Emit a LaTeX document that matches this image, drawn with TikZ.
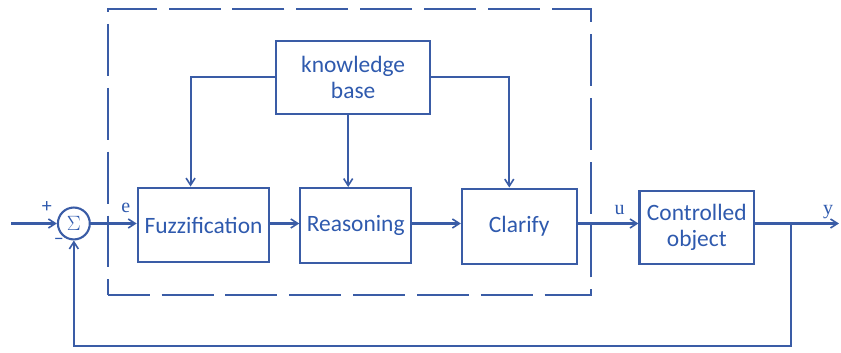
\documentclass[tikz,border=0pt]{standalone}
\usepackage{fontspec}
\setmainfont{Carlito}
\newfontfamily\lblfont{Liberation Serif}
\usetikzlibrary{arrows.meta}
\definecolor{lc}{HTML}{3A5CA6}
\definecolor{tc}{HTML}{2F5AAE}
\begin{document}
\begin{tikzpicture}[x=1pt,y=-1pt,
  line width=2.1pt,
  every path/.style={draw=lc},
  blk/.style={draw=lc,rectangle,inner sep=0pt,text=tc,align=center,font=\fontsize{23.5}{26}\selectfont},
  arr/.style={-{Straight Barb[length=7pt,width=9pt,line width=1.6pt]}},
  lbl/.style={text=tc,font=\lblfont\fontsize{20}{22}\selectfont,inner sep=0pt},
]
\useasboundingbox (0,0) rectangle (841,351);
\fill[white] (0,0) rectangle (841,351);
% dashed controller box
\node[draw=lc,dash pattern=on 52pt off 12pt,dash phase=10pt,minimum width=484pt,minimum height=287pt,inner sep=0pt] (ctrl) at (349,151.5) {};
% blocks
\node[blk,minimum width=154pt,minimum height=73pt] (kb) at (353,76.5) {knowledge\\base};
\node[blk,minimum width=132pt,minimum height=75pt] (fuzz) at (203,224.5) {Fuzzification};
\node[blk,minimum width=111pt,minimum height=75pt] (reas) at (355.5,225) {Reasoning};
\node[blk,minimum width=115pt,minimum height=76pt] (clar) at (519.5,226) {Clarify};
\node[blk,minimum width=115pt,minimum height=74pt] (obj) at (697.5,227) {Controlled\\object};
% summing junction
\node[draw=lc,circle,minimum size=32pt,inner sep=0pt,text=tc,font=\fontsize{21}{23}\selectfont] (sum) at (73,223) {$\Sigma$};
\coordinate (in) at (10,223);
\coordinate (yend) at (840,223);
\coordinate (br) at (792,223);
\coordinate (bot) at (792,346);
% main line
\draw[arr] (in) -- (sum);
\draw[arr] (sum) -- (fuzz.west |- sum);
\draw[arr] (fuzz.east |- sum) -- (reas.west |- sum);
\draw[arr] (reas.east |- sum) -- (clar.west |- sum);
\draw[arr] (clar.east |- sum) -- (obj.west |- sum);
\draw[arr] (obj.east |- sum) -- (yend);
% feedback
\draw[arr] (br) -- (bot) -| (sum.south);
% knowledge base arrows
\draw[arr] (kb.west) -| ([xshift=-13pt]fuzz.north);
\draw[arr] ([xshift=-5pt]kb.south) -- ([xshift=-5pt]kb.south |- reas.north);
\draw[arr] (kb.east) -| ([xshift=-10pt]clar.north);
% labels
\node[text=tc,font=\fontsize{20}{22}\selectfont,inner sep=0pt] (plus) at (46,206) {+};
\node[text=tc,font=\fontsize{20}{22}\selectfont,inner sep=0pt] (minus) at (58,241) {–};
\node[lbl] (e) at (125,207) {e};
\node[lbl] (u) at (620,209) {u};
\node[lbl] (y) at (829,212) {y};
\end{tikzpicture}
\end{document}
